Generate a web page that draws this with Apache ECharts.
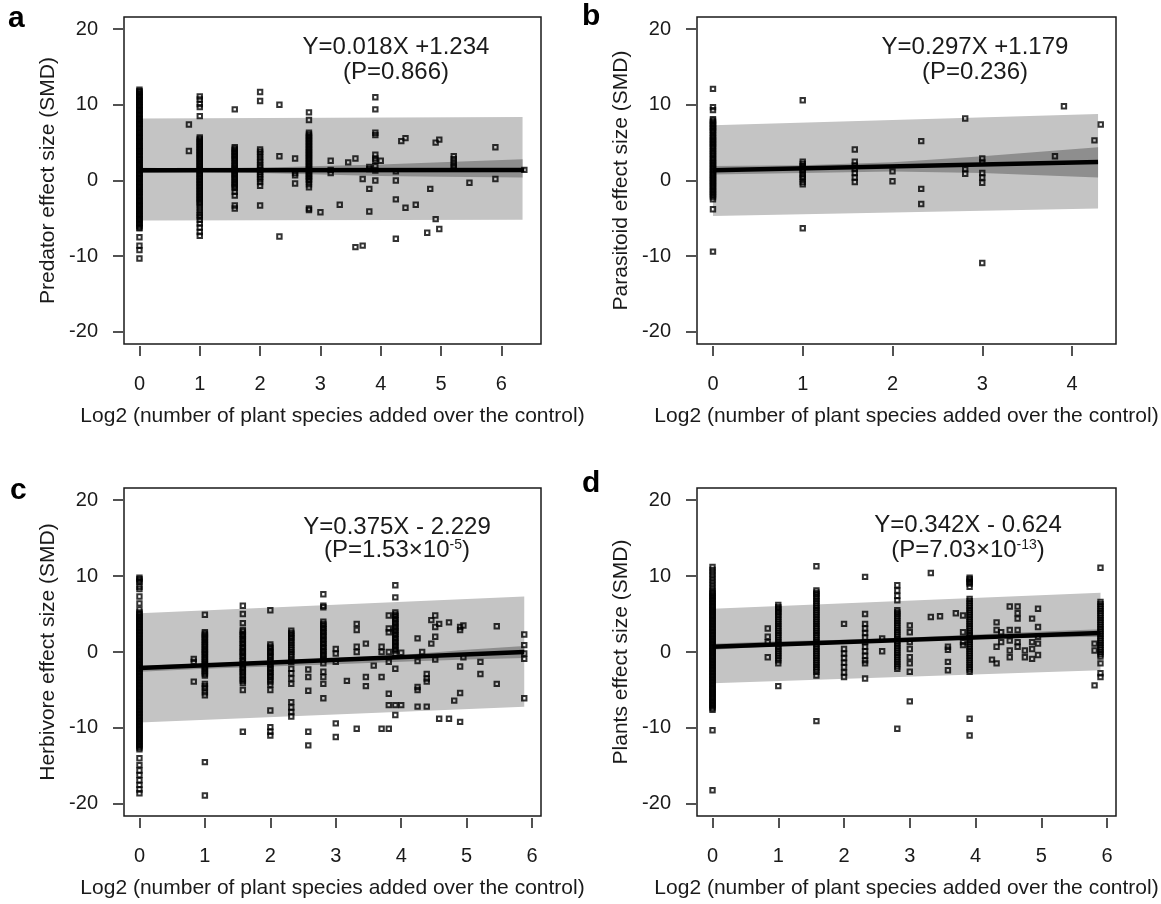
<!DOCTYPE html>
<html>
<head>
<meta charset="utf-8">
<title>Effect size vs log2 plant species added</title>
<script src="https://cdn.jsdelivr.net/npm/echarts@6/dist/echarts.min.js"></script>
<style>
    html, body { margin: 0; padding: 0; background: #fff; }
    #chart { width: 1161px; height: 904px; }
</style>
</head>
<body>
<div id="chart"></div>
<script>
const FONT = "'Liberation Sans', Arial, sans-serif"
const INK = '#1a1a1a'

// tick labels
const yTicks = [-20, -10, 0, 10, 20]
const xTicks6 = [0, 1, 2, 3, 4, 5, 6]
const xTicks4 = [0, 1, 2, 3, 4]

// a - predator: [x, [y values at that x]]
const predatorPts = [
    [0, [12.0, 11.8, 11.7, 11.5, 11.3, 11.1, 11.0, 10.8, 10.6, 10.4, 10.2, 10.0, 9.9, 9.7, 9.5, 9.3, 9.2, 9.0, 8.8, 8.6, 8.4, 8.2, 8.1, 7.9, 7.7, 7.5, 7.4, 7.2, 7.0, 6.8, 6.6, 6.4, 6.3, 6.1, 5.9, 5.7, 5.6, 5.4, 5.2, 5.0, 4.8, 4.6, 4.5, 4.3, 4.1, 3.9, 3.8, 3.6, 3.4, 3.2, 3.0, 2.8, 2.7, 2.5, 2.3, 2.1, 2.0, 1.8, 1.6, 1.4, 1.2, 1.0, 0.9, 0.7, 0.5, 0.3, 0.2, 0.0, -0.2, -0.4, -0.6, -0.8, -0.9, -1.1, -1.3, -1.5, -1.6, -1.8, -2.0, -2.2, -2.4, -2.6, -2.7, -2.9, -3.1, -3.3, -3.4, -3.6, -3.8, -4.0, -4.2, -4.4, -4.5, -4.7, -4.9, -5.1, -5.2, -5.4, -5.6, -5.8, -6.0, -6.2, -6.3, -7.5, -8.6, -9.2, -10.3]],
    [0.82, [7.4, 3.9]],
    [1, [11.1, 10.7, 10.1, 9.7, 8.5, 5.7, 5.5, 5.3, 5.1, 4.9, 4.7, 4.5, 4.3, 4.1, 3.9, 3.7, 3.5, 3.3, 3.1, 2.9, 2.7, 2.5, 2.3, 2.1, 1.9, 1.7, 1.5, 1.3, 1.1, 0.9, 0.7, 0.5, 0.3, 0.1, -0.1, -0.3, -0.5, -0.7, -0.9, -1.1, -1.3, -1.5, -1.7, -1.9, -2.1, -2.3, -2.5, -2.7, -2.9, -3.1, -3.5, -3.9, -4.3, -4.6, -4.8, -5.2, -5.7, -6.2, -6.8, -7.3]],
    [1.58, [9.4, 4.4, 4.2, 4.0, 3.8, 3.6, 3.4, 3.2, 3.0, 2.8, 2.6, 2.3, 2.1, 1.9, 1.7, 1.5, 1.3, 1.1, 0.9, 0.7, 0.5, 0.3, 0.1, -0.2, -0.4, -0.6, -0.8, -1.0, -1.5, -2.0, -3.3, -3.7]],
    [2, [11.7, 10.5, 4.1, 3.8, 3.5, 3.1, 2.7, 2.4, 2.0, 1.7, 1.4, 1.1, 0.8, 0.5, 0.2, -0.2, -0.7, -3.3]],
    [2.32, [10.0, 3.2, -7.4]],
    [2.58, [2.9, 1.0, 0.7, -0.4]],
    [2.81, [9.0, 8.0, 6.3, 6.1, 5.9, 5.7, 5.5, 5.3, 5.1, 4.9, 4.7, 4.5, 4.3, 4.1, 3.9, 3.7, 3.5, 3.3, 3.1, 2.9, 2.7, 2.5, 2.3, 2.1, 1.9, 1.7, 1.5, 1.3, 1.1, 0.9, 0.7, 0.5, 0.3, 0.1, -0.1, -0.5, -0.9, -3.7, -3.9]],
    [3.0, [-4.2]],
    [3.17, [2.6, 1.4, 1.0]],
    [3.32, [-3.2]],
    [3.46, [2.4]],
    [3.58, [2.9, -8.8]],
    [3.7, [0.2, -8.6]],
    [3.81, [1.8, 1.5, -1.1, -4.1]],
    [3.91, [11.0, 9.4, 6.3, 6.0, 3.4, 2.9, 2.6, 1.9, 1.3, 0.0]],
    [4.0, [2.6]],
    [4.25, [1.2, 0.0, -2.5, -7.7]],
    [4.34, [5.2]],
    [4.41, [5.6, -3.6]],
    [4.58, [-3.2]],
    [4.77, [-6.9]],
    [4.82, [-1.1]],
    [4.91, [5.0, -5.1]],
    [4.97, [5.4, -6.4]],
    [5.21, [3.2, 2.8, 2.4, 2.0, 1.7]],
    [5.47, [-0.3]],
    [5.9, [4.4, 0.2]],
    [6.38, [1.4]]
]
const predatorBandX = [0, 6.35]
const predatorPredLo = [-5.3, -5.2]
const predatorPredHi = [8.2, 8.4]
const predatorCiX = [0, 1, 2, 3, 4, 5, 6.35]
const predatorCiLo = [1.0, 1.1, 1.0, 0.8, 0.6, 0.5, 0.4]
const predatorCiHi = [1.7, 1.6, 1.7, 1.9, 2.1, 2.4, 2.8]
const predatorFitX = [0, 6.38]
const predatorFitY = [1.35, 1.4]

// b - parasitoid
const parasitoidPts = [
    [0, [12.1, 9.7, 9.3, 8.1, 7.9, 7.7, 7.5, 7.3, 7.1, 6.9, 6.7, 6.5, 6.3, 6.0, 5.8, 5.6, 5.4, 5.2, 5.0, 4.8, 4.6, 4.4, 4.2, 3.9, 3.7, 3.5, 3.3, 3.0, 2.8, 2.6, 2.4, 2.2, 2.0, 1.8, 1.6, 1.4, 1.2, 1.0, 0.8, 0.6, 0.4, 0.2, 0.0, -0.2, -0.4, -0.6, -0.8, -1.0, -1.2, -1.4, -1.6, -1.8, -2.0, -2.2, -2.5, -3.8, -9.4]],
    [1, [10.6, 2.5, 2.2, 1.9, 1.7, 1.4, 1.2, 0.8, 0.5, 0.3, -0.2, -0.5, -6.3]],
    [1.58, [4.1, 2.5, 2.0, 1.5, 1.0, 0.4, -0.2]],
    [2, [1.2, -0.1]],
    [2.32, [5.2, -1.1, -3.1]],
    [2.81, [8.2, 1.5, 0.9]],
    [3, [2.9, 2.4, 1.0, 0.4, -0.3, -10.9]],
    [3.81, [3.2]],
    [3.91, [9.8]],
    [4.25, [5.3]],
    [4.32, [7.4]]
]
const parasitoidBandX = [0, 4.29]
const parasitoidPredLo = [-4.7, -3.7]
const parasitoidPredHi = [7.3, 8.8]
const parasitoidCiX = [0, 1, 2, 3, 4.29]
const parasitoidCiLo = [0.8, 1.0, 1.2, 1.0, 0.4]
const parasitoidCiHi = [1.9, 2.0, 2.4, 3.2, 4.4]
const parasitoidFitX = [0, 4.29]
const parasitoidFitY = [1.35, 2.45]

// c - herbivore
const herbivorePts = [
    [0, [9.8, 9.6, 9.4, 9.2, 8.6, 8.3, 7.3, 6.4, 5.6, 5.2, 5.0, 4.8, 4.6, 4.4, 4.2, 4.0, 3.8, 3.6, 3.4, 3.2, 3.0, 2.8, 2.6, 2.4, 2.2, 2.0, 1.8, 1.6, 1.4, 1.2, 1.0, 0.8, 0.6, 0.4, 0.2, 0.0, -0.2, -0.4, -0.6, -0.8, -1.0, -1.2, -1.4, -1.6, -1.8, -2.0, -2.2, -2.4, -2.6, -2.8, -3.0, -3.2, -3.4, -3.6, -3.8, -4.0, -4.2, -4.4, -4.6, -4.8, -5.0, -5.2, -5.4, -5.6, -5.8, -6.0, -6.2, -6.4, -6.6, -6.8, -7.0, -7.2, -7.4, -7.6, -7.8, -8.0, -8.2, -8.4, -8.6, -8.8, -9.0, -9.2, -9.4, -9.6, -9.8, -10.0, -10.2, -10.4, -10.6, -10.8, -11.0, -11.2, -11.4, -11.6, -11.8, -12.0, -12.2, -12.4, -12.6, -12.8, -14.0, -14.9, -15.6, -16.2, -16.9, -17.5, -18.1, -18.6]],
    [0.83, [-0.9, -1.3, -3.9]],
    [1, [4.9, 2.6, 2.4, 2.2, 2.0, 1.8, 1.6, 1.3, 1.1, 0.9, 0.7, 0.4, 0.2, 0.0, -0.2, -0.4, -0.7, -0.9, -1.1, -1.3, -1.6, -1.8, -2.0, -2.2, -2.5, -2.7, -2.9, -3.1, -4.2, -4.5, -4.8, -5.3, -5.7, -14.5, -18.9]],
    [1.58, [6.1, 5.0, 3.8, 2.9, 2.7, 2.4, 2.2, 2.0, 1.7, 1.5, 1.2, 1.0, 0.7, 0.5, 0.2, 0.0, -0.2, -0.5, -0.7, -1.0, -1.2, -1.5, -1.7, -2.0, -2.2, -2.5, -2.7, -3.0, -3.3, -3.6, -3.8, -4.1, -5.0, -10.5]],
    [2, [5.5, 1.0, 0.7, 0.5, 0.2, 0.0, -0.2, -0.5, -0.7, -1.0, -1.3, -1.6, -1.8, -2.1, -2.3, -2.6, -2.8, -3.1, -3.3, -3.6, -3.9, -4.3, -5.0, -7.7, -9.9, -10.5, -11.0]],
    [2.32, [2.8, 2.5, 2.3, 2.0, 1.8, 1.5, 1.2, 0.9, 0.6, 0.3, 0.0, -0.3, -0.6, -1.0, -1.3, -2.2, -2.8, -3.5, -4.2, -6.6, -7.3, -7.9, -8.5]],
    [2.58, [-2.3, -3.3, -5.1, -10.5, -12.3]],
    [2.81, [7.6, 6.1, 5.9, 4.0, 3.7, 3.5, 3.2, 3.0, 2.7, 2.5, 2.2, 2.0, 1.7, 1.5, 1.2, 1.0, 0.7, 0.5, 0.2, 0.0, -0.3, -0.5, -0.8, -1.0, -1.5, -2.6, -3.3, -4.2, -6.1]],
    [3, [0.4, -0.2, -1.3, -9.4, -11.2]],
    [3.17, [-3.8]],
    [3.32, [3.7, 2.9, 0.7, 0.0, -10.1]],
    [3.46, [1.1, -3.3, -4.5]],
    [3.58, [-1.8]],
    [3.7, [0.7, 0.0, -3.3, -10.1]],
    [3.81, [4.8, 3.1, 2.6, 0.0, -1.3, -5.5, -7.0, -10.1]],
    [3.91, [8.8, 7.2, 5.2, 4.9, 4.7, 4.4, 4.2, 3.9, 3.7, 3.4, 3.2, 2.9, 2.7, 2.4, 2.2, 1.9, 1.7, 1.4, 1.2, 0.9, 0.7, 0.4, 0.2, -0.2, -2.2, -7.0, -8.3]],
    [4, [-0.1, -7.0]],
    [4.25, [1.8, -1.2, -4.6, -5.0, -7.2]],
    [4.32, [0.0]],
    [4.39, [-2.9, -3.5, -3.9, -7.2]],
    [4.46, [4.2, 1.1]],
    [4.52, [4.8, 3.3, 2.0, -1.0]],
    [4.58, [3.7, -8.8]],
    [4.73, [3.9, -8.8]],
    [4.81, [-6.4]],
    [4.9, [3.3, 2.9, -1.9, -5.4, -9.2]],
    [4.95, [3.5, -0.7]],
    [5.21, [-1.3, -2.9]],
    [5.46, [3.4, -4.2]],
    [5.88, [2.3, 0.9, -0.2, -0.9, -6.1]]
]
const herbivoreBandX = [0, 5.88]
const herbivorePredLo = [-9.3, -7.2]
const herbivorePredHi = [5.1, 7.3]
const herbivoreCiX = [0, 1, 2, 3, 4, 5, 5.88]
const herbivoreCiLo = [-2.6, -2.2, -1.9, -1.6, -1.3, -1.0, -0.8]
const herbivoreCiHi = [-1.8, -1.5, -1.2, -0.8, -0.4, 0.3, 0.8]
const herbivoreFitX = [0, 5.88]
const herbivoreFitY = [-2.1, 0.0]

// d - plants
const plantsPts = [
    [0, [11.2, 10.8, 10.4, 10.0, 9.6, 9.2, 8.8, 8.4, 8.0, 7.8, 7.6, 7.4, 7.2, 7.0, 6.8, 6.6, 6.4, 6.2, 6.0, 5.8, 5.6, 5.4, 5.2, 5.0, 4.8, 4.6, 4.4, 4.2, 4.0, 3.8, 3.6, 3.4, 3.2, 3.0, 2.8, 2.6, 2.4, 2.2, 2.0, 1.8, 1.6, 1.4, 1.2, 1.0, 0.8, 0.6, 0.4, 0.2, 0.0, -0.2, -0.4, -0.6, -0.8, -1.0, -1.2, -1.4, -1.6, -1.8, -2.0, -2.2, -2.4, -2.6, -2.8, -3.0, -3.2, -3.4, -3.6, -3.8, -4.0, -4.2, -4.4, -4.6, -4.8, -5.0, -5.2, -5.4, -5.6, -5.8, -6.0, -6.2, -6.4, -6.6, -6.8, -7.0, -7.2, -7.4, -7.6, -10.3, -18.2]],
    [0.84, [3.1, 2.0, 1.3, -0.7]],
    [1, [6.2, 5.9, 5.7, 5.4, 5.2, 4.9, 4.6, 4.3, 4.0, 3.7, 3.4, 3.1, 2.8, 2.5, 2.2, 1.9, 1.6, 1.3, 1.0, 0.7, 0.4, 0.1, -0.2, -0.5, -0.8, -1.1, -1.5, -4.5]],
    [1.58, [11.3, 8.1, 7.8, 7.6, 7.3, 7.0, 6.7, 6.4, 6.1, 5.8, 5.5, 5.2, 4.9, 4.6, 4.3, 4.0, 3.7, 3.4, 3.1, 2.8, 2.5, 2.2, 1.9, 1.6, 1.3, 1.0, 0.7, 0.4, 0.1, -0.2, -0.5, -0.8, -1.1, -1.4, -1.7, -2.0, -2.3, -2.6, -3.1, -9.1]],
    [2, [3.7, 0.4, -0.2, -0.8, -1.4, -2.0, -2.7, -3.3]],
    [2.32, [9.9, 5.0, 3.7, 3.1, 2.5, 1.9, 1.3, 0.7, 0.1, -0.5, -1.1, -1.5, -3.5]],
    [2.58, [1.8, 0.1]],
    [2.81, [8.8, 8.1, 7.4, 6.8, 5.5, 5.2, 5.0, 4.7, 4.4, 4.1, 3.8, 3.5, 3.2, 2.9, 2.6, 2.3, 2.0, 1.7, 1.4, 1.1, 0.8, 0.5, 0.2, -0.1, -0.4, -0.7, -1.0, -1.3, -1.6, -1.9, -2.2, -10.1]],
    [3, [3.5, 2.6, 1.3, 0.4, -0.7, -1.5, -2.6, -6.5]],
    [3.32, [10.4, 4.6]],
    [3.46, [4.7]],
    [3.58, [0.7, 0.3, -1.3, -2.4]],
    [3.7, [5.1]],
    [3.81, [4.8, 2.6, 1.3, 0.9]],
    [3.91, [9.8, 9.6, 9.4, 9.2, 9.0, 8.6, 7.0, 6.7, 6.4, 6.1, 5.8, 5.5, 5.2, 4.9, 4.6, 4.3, 4.0, 3.7, 3.4, 3.1, 2.8, 2.5, 2.2, 1.9, 1.6, 1.3, 1.0, 0.7, 0.4, 0.1, -0.2, -0.5, -0.8, -1.1, -1.4, -1.7, -2.0, -2.3, -2.6, -8.8, -11.0]],
    [4.25, [-1.0]],
    [4.32, [3.9, 2.9, 0.7, -1.5]],
    [4.39, [2.6, 1.3]],
    [4.52, [6.0, 2.9, 1.5, 0.2, -0.7]],
    [4.64, [6.0, 5.1, 4.4, 2.9, 1.3, 0.7]],
    [4.75, [0.2, -0.7]],
    [4.86, [4.4, 1.3, 0.4, -0.9]],
    [4.95, [5.7, 3.3, 2.0, 1.1, -0.4]],
    [5.81, [1.1, 0.2, -4.4]],
    [5.9, [11.1, 6.6, 6.3, 6.0, 5.7, 5.4, 5.1, 4.8, 4.5, 4.2, 3.9, 3.6, 3.3, 3.0, 2.7, 2.4, 2.1, 1.8, 1.5, 1.2, 0.9, 0.6, 0.3, 0.0, -0.3, -0.6, -1.5, -2.8, -3.3]]
]
const plantsBandX = [0, 5.9]
const plantsPredLo = [-4.1, -2.4]
const plantsPredHi = [5.7, 7.8]
const plantsCiX = [0, 1, 2, 3, 4, 5, 5.9]
const plantsCiLo = [0.3, 0.8, 1.1, 1.4, 1.7, 1.9, 2.0]
const plantsCiHi = [1.1, 1.4, 1.6, 1.9, 2.3, 2.7, 3.0]
const plantsFitX = [0, 5.9]
const plantsFitY = [0.7, 2.5]

const xName = 'Log2 (number of plant species added over the control)'

const panels = [
    {
        letter: 'a', yName: 'Predator effect size (SMD)',
        pts: predatorPts, bandX: predatorBandX, predLo: predatorPredLo, predHi: predatorPredHi,
        ciX: predatorCiX, ciLo: predatorCiLo, ciHi: predatorCiHi, fitX: predatorFitX, fitY: predatorFitY,
        xTicks: xTicks6, xMin: -0.256, xMax: 6.656,
        grid: { left: 124, top: 17, width: 417, height: 327 },
        eq: ['Y=0.018X +1.234', '(P=0.866)'], eqX: 396, eqY: [47, 72], letterPos: [8, 19]
    },
    {
        letter: 'b', yName: 'Parasitoid effect size (SMD)',
        pts: parasitoidPts, bandX: parasitoidBandX, predLo: parasitoidPredLo, predHi: parasitoidPredHi,
        ciX: parasitoidCiX, ciLo: parasitoidCiLo, ciHi: parasitoidCiHi, fitX: parasitoidFitX, fitY: parasitoidFitY,
        xTicks: xTicks4, xMin: -0.178, xMax: 4.49,
        grid: { left: 697, top: 17, width: 419, height: 327 },
        eq: ['Y=0.297X +1.179', '(P=0.236)'], eqX: 975, eqY: [47, 72], letterPos: [582, 17]
    },
    {
        letter: 'c', yName: 'Herbivore effect size (SMD)',
        pts: herbivorePts, bandX: herbivoreBandX, predLo: herbivorePredLo, predHi: herbivorePredHi,
        ciX: herbivoreCiX, ciLo: herbivoreCiLo, ciHi: herbivoreCiHi, fitX: herbivoreFitX, fitY: herbivoreFitY,
        xTicks: xTicks6, xMin: -0.236, xMax: 6.136,
        grid: { left: 124, top: 488, width: 417, height: 328 },
        eq: ['Y=0.375X - 2.229', '(P=1.53×10{sup|-5})'], eqX: 397, eqY: [527, 550], letterPos: [10, 491]
    },
    {
        letter: 'd', yName: 'Plants effect size (SMD)',
        pts: plantsPts, bandX: plantsBandX, predLo: plantsPredLo, predHi: plantsPredHi,
        ciX: plantsCiX, ciLo: plantsCiLo, ciHi: plantsCiHi, fitX: plantsFitX, fitY: plantsFitY,
        xTicks: xTicks6, xMin: -0.236, xMax: 6.136,
        grid: { left: 697, top: 488, width: 419, height: 328 },
        eq: ['Y=0.342X - 0.624', '(P=7.03×10{sup|-13})'], eqX: 968, eqY: [525, 550], letterPos: [582, 484]
    }
]

// polygon band drawn through the axes of panel idx
function bandSeries(idx, xs, lo, hi, color, z) {
    return {
        type: 'custom',
        xAxisIndex: idx,
        yAxisIndex: idx,
        silent: true,
        z: z,
        data: xs.map((x, i) => [x, lo[i], hi[i]]),
        encode: { x: 0, y: [1, 2] },
        renderItem(params, api) {
            if (params.dataIndex !== 0) return null
            const upper = xs.map((x, i) => api.coord([x, hi[i]]))
            const lower = xs.map((x, i) => api.coord([x, lo[i]])).reverse()
            return {
                type: 'polygon',
                shape: { points: upper.concat(lower) },
                style: { fill: color }
            }
        }
    }
}

const grids = [], xAxes = [], yAxes = [], series = [], graphics = []

panels.forEach((p, i) => {
    grids.push(Object.assign({
        show: true,
        borderColor: INK,
        borderWidth: 1.5,
        backgroundColor: 'transparent',
        containLabel: false,
        outerBoundsMode: 'none'
    }, p.grid))

    xAxes.push({
        gridIndex: i,
        type: 'value',
        min: p.xMin,
        max: p.xMax,
        offset: 2,
        axisLine: { show: false, onZero: false },
        axisTick: { show: true, length: 10, customValues: p.xTicks, lineStyle: { color: INK, width: 1.5 } },
        axisLabel: { customValues: p.xTicks, margin: 28, fontSize: 20, color: INK, fontFamily: FONT },
        splitLine: { show: false },
        name: xName,
        nameLocation: 'middle',
        nameGap: 60,
        nameMoveOverlap: false,
        nameTextStyle: { fontSize: 21, color: INK, fontFamily: FONT }
    })

    yAxes.push({
        gridIndex: i,
        type: 'value',
        min: -21.6,
        max: 21.6,
        offset: 1,
        axisLine: { show: false, onZero: false },
        axisTick: { show: true, length: 10, customValues: yTicks, lineStyle: { color: INK, width: 1.5 } },
        axisLabel: { customValues: yTicks, margin: 25, fontSize: 20, color: INK, fontFamily: FONT },
        splitLine: { show: false },
        name: p.yName,
        nameLocation: 'middle',
        nameGap: 64,
        nameMoveOverlap: false,
        nameTextStyle: { fontSize: 21, color: INK, fontFamily: FONT }
    })

    series.push(bandSeries(i, p.bandX, p.predLo, p.predHi, '#c4c4c4', 1))
    series.push(bandSeries(i, p.ciX, p.ciLo, p.ciHi, '#8e8e8e', 2))

    const pts = []
    p.pts.forEach(([x, ys]) => ys.forEach(y => pts.push([x, y])))
    series.push({
        type: 'scatter',
        xAxisIndex: i,
        yAxisIndex: i,
        silent: true,
        z: 3,
        symbol: 'rect',
        symbolSize: 4.4,
        itemStyle: { color: 'rgba(0,0,0,0)', borderColor: '#000', borderWidth: 2 },
        data: pts
    })

    series.push({
        type: 'line',
        xAxisIndex: i,
        yAxisIndex: i,
        silent: true,
        z: 4,
        symbol: 'none',
        lineStyle: { color: '#000', width: 4.5 },
        data: p.fitX.map((x, k) => [x, p.fitY[k]])
    })

    graphics.push({
        type: 'text', x: p.letterPos[0], y: p.letterPos[1],
        style: { text: p.letter, font: `bold 30px ${FONT}`, fill: '#000', verticalAlign: 'middle' }
    })
    p.eq.forEach((line, k) => {
        graphics.push({
            type: 'text', x: p.eqX, y: p.eqY[k],
            style: {
                text: line,
                fontSize: 24,
                fontFamily: FONT,
                fill: INK,
                align: 'center',
                verticalAlign: 'middle',
                rich: {
                    sup: { fontSize: 14, fontFamily: FONT, fill: INK, verticalAlign: 'top', lineHeight: 14 }
                }
            }
        })
    })
})

const chart = echarts.init(document.getElementById('chart'))
chart.setOption({
    animation: false,
    backgroundColor: '#fff',
    grid: grids,
    xAxis: xAxes,
    yAxis: yAxes,
    series: series,
    graphic: graphics
})
</script>
</body>
</html>
